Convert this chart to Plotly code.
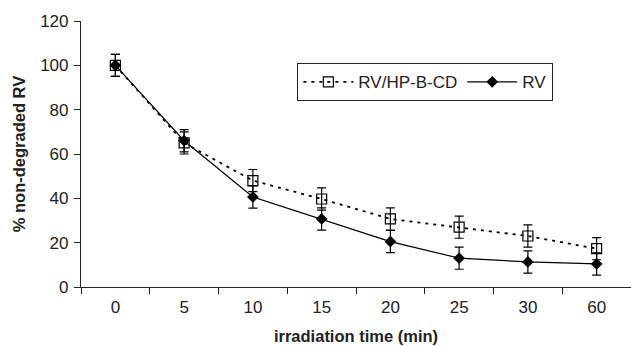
import plotly.graph_objects as go

categories = ["0", "5", "10", "15", "20", "25", "30", "60"]
hp_values = [100, 65, 48, 39.7, 30.7, 27, 23, 17.3]
hp_err = [5, 5, 5, 5, 5, 5, 5, 5]
rv_values = [100, 66, 40.6, 30.7, 20.5, 13, 11.3, 10.4]
rv_err = [5, 5, 5, 5, 5, 5, 5, 5]

font = "Liberation Sans, Arial, sans-serif"

fig = go.Figure()
fig.add_trace(go.Scatter(
    x=categories, y=hp_values, name="RV/HP-B-CD", mode="lines+markers",
    line=dict(color="black", width=1.8, dash="3px,5px"),
    marker=dict(symbol="square-open", size=10, color="black", line=dict(width=1.2)),
    error_y=dict(type="data", array=hp_err, color="black", thickness=1.2, width=4.5),
))
fig.add_trace(go.Scatter(
    x=categories, y=rv_values, name="RV", mode="lines+markers",
    line=dict(color="black", width=1.2),
    marker=dict(symbol="diamond", size=9, color="black"),
    error_y=dict(type="data", array=rv_err, color="black", thickness=1.2, width=4.5),
))

fig.update_layout(
    width=631, height=346,
    margin=dict(l=81, r=0, t=21, b=59),
    paper_bgcolor="white", plot_bgcolor="white",
    font=dict(family=font, size=17, color="#222"),
    legend=dict(
        orientation="h", x=0.393, y=0.842, xanchor="left", yanchor="top",
        bordercolor="#222", borderwidth=1.2, bgcolor="white",
        font=dict(size=17, family=font), itemwidth=50,
    ),
    xaxis=dict(
        type="category", range=[-0.5, 7.5], showline=True, linecolor="#222", linewidth=1.2,
        ticks="outside", tickson="boundaries", ticklen=6, tickcolor="#222",
        showgrid=False, zeroline=False, ticklabelstandoff=4,
        tickfont=dict(size=17),
        title=dict(text="<b>irradiation time (min)</b>", font=dict(size=16.5), standoff=14),
    ),
    yaxis=dict(
        range=[0, 120], dtick=20, showline=True, linecolor="#222", linewidth=1.2,
        ticks="outside", ticklen=6, tickcolor="#222", showgrid=False, zeroline=False,
        tickfont=dict(size=17), ticklabelstandoff=2,
        title=dict(text="<b>% non-degraded RV</b>", font=dict(size=16.5), standoff=10),
    ),
)

fig.write_html("out.html")
